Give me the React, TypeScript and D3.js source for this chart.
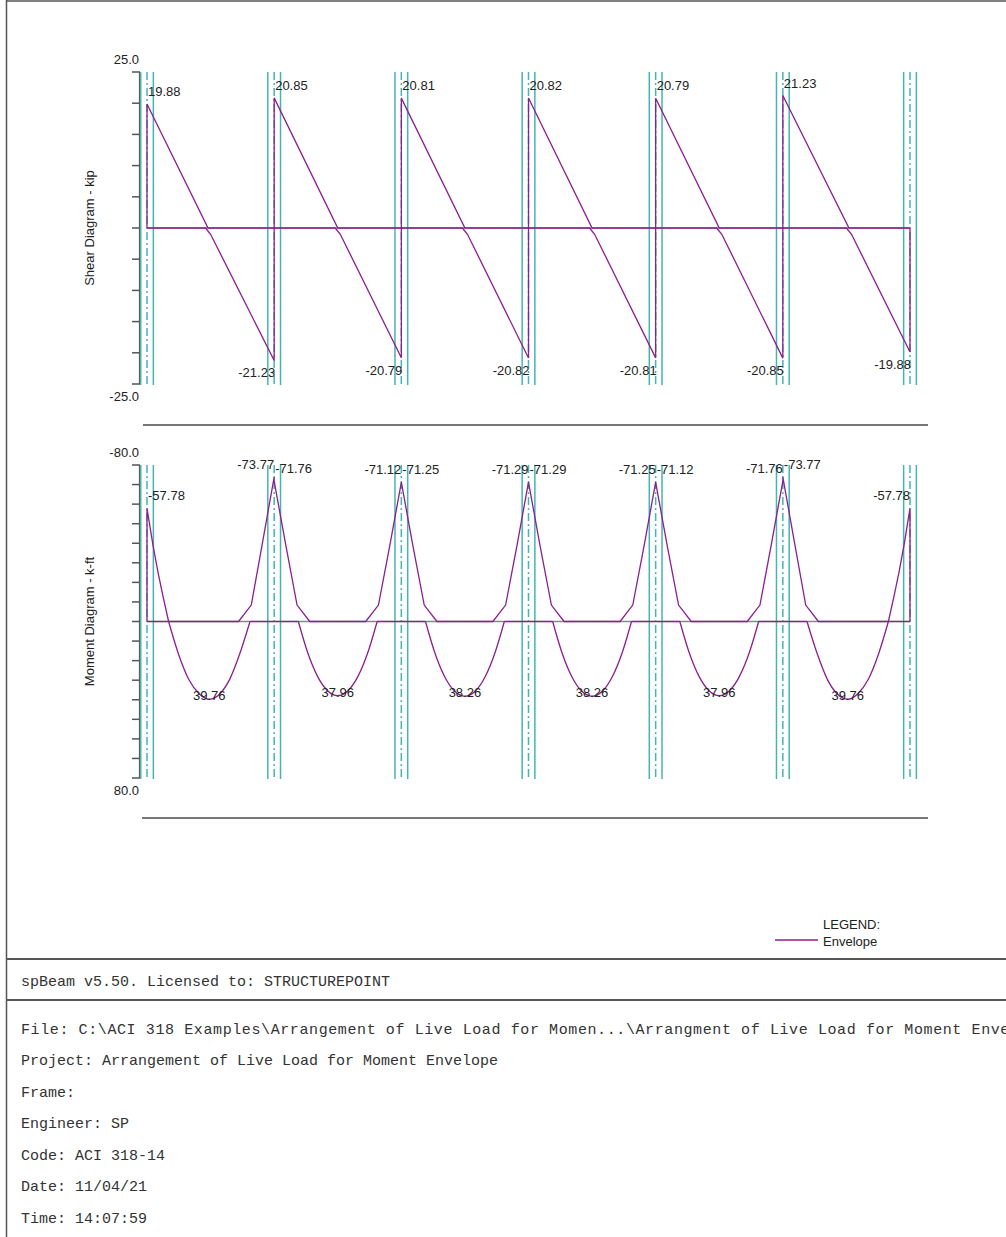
import React from 'react';
import * as d3 from 'd3';

// beam geometry (ft)
const spanLength = 25;
const spanCount = 6;
const columnWidth = 2.5;

// shear envelope (kip)
const shearLeft = [19.88, 20.85, 20.81, 20.82, 20.79, 21.23];
const shearRight = [-21.23, -20.79, -20.82, -20.81, -20.85, -19.88];
const shearPosZero = [0.48, 0.5, 0.5, 0.5, 0.5, 0.52];
const shearNegStart = [0.46, 0.48, 0.48, 0.48, 0.48, 0.5];
const shearNegBend = [0.5, 0.52, 0.52, 0.52, 0.52, 0.54];
const shearNegBendValue = [-1.0, -1.0, -1.0, -1.0, -1.0, -1.0];

// moment envelope (k-ft), negative plotted upward
const momentLeft = [-57.78, -71.76, -71.25, -71.29, -71.12, -73.77];
const momentRight = [-73.77, -71.12, -71.29, -71.25, -71.76, -57.78];
const momentMid = [39.76, 37.96, 38.26, 38.26, 37.96, 39.76];
const momentMidAt = [0.49, 0.5, 0.5, 0.5, 0.5, 0.51];

// stations [fraction of span, value] next to each support
const momentNegNearLeft: [number, number][][] = [
  [[0.047, -39], [0.087, -25], [0.126, -12.8], [0.17, 0]],
  [[0.09, -39.5], [0.18, -8.4], [0.28, 0]],
  [[0.09, -39], [0.18, -8.4], [0.28, 0]],
  [[0.09, -39], [0.18, -8.4], [0.28, 0]],
  [[0.09, -39], [0.18, -8.4], [0.28, 0]],
  [[0.09, -41], [0.18, -8.4], [0.28, 0]],
];
const momentNegNearRight: [number, number][][] = [
  [[0.72, 0], [0.82, -8.4], [0.91, -41]],
  [[0.72, 0], [0.82, -8.4], [0.91, -39]],
  [[0.72, 0], [0.82, -8.4], [0.91, -39]],
  [[0.72, 0], [0.82, -8.4], [0.91, -39]],
  [[0.72, 0], [0.82, -8.4], [0.91, -39.5]],
  [[0.83, 0], [0.874, -12.8], [0.913, -25], [0.953, -39]],
];
const momentPosCurve: [number, number][][] = [
  [[0.17, 0], [0.25, 17.1], [0.33, 29.8], [0.41, 36.9], [0.49, 39.76], [0.57, 37.2], [0.65, 29.6], [0.73, 16.4], [0.81, 0]],
  [[0.19, 0], [0.26, 15.2], [0.34, 27.9], [0.42, 35.4], [0.5, 37.96], [0.58, 35.4], [0.66, 27.9], [0.74, 15.2], [0.81, 0]],
  [[0.19, 0], [0.26, 15.3], [0.34, 28.1], [0.42, 35.7], [0.5, 38.26], [0.58, 35.7], [0.66, 28.1], [0.74, 15.3], [0.81, 0]],
  [[0.19, 0], [0.26, 15.3], [0.34, 28.1], [0.42, 35.7], [0.5, 38.26], [0.58, 35.7], [0.66, 28.1], [0.74, 15.3], [0.81, 0]],
  [[0.19, 0], [0.26, 15.2], [0.34, 27.9], [0.42, 35.4], [0.5, 37.96], [0.58, 35.4], [0.66, 27.9], [0.74, 15.2], [0.81, 0]],
  [[0.19, 0], [0.27, 16.4], [0.35, 29.6], [0.43, 37.2], [0.51, 39.76], [0.59, 36.9], [0.67, 29.8], [0.75, 17.1], [0.83, 0]],
];

const footerLines = [
  'Project: Arrangement of Live Load for Moment Envelope',
  'Frame:',
  'Engineer: SP',
  'Code: ACI 318-14',
  'Date: 11/04/21',
  'Time: 14:07:59',
];
const fileLine = 'File: C:\\ACI 318 Examples\\Arrangement of Live Load for Momen...\\Arrangment of Live Load for Moment Enve';

const W = 1006;
const H = 1237;
const PURPLE = '#8a1f90';
const TEAL = '#47b3b3';
const AXIS = '#555';
const SANS = '"Liberation Sans", Arial, sans-serif';
const MONO = '"Liberation Mono", "Courier New", monospace';

type Pt = [number, number];

const x = d3.scaleLinear().domain([0, spanLength * spanCount]).range([147, 910]);
const yShear = d3.scaleLinear().domain([25, -25]).range([72, 384]);
const yMoment = d3.scaleLinear().domain([-80, 80]).range([465, 778]);

const supports = d3.range(spanCount + 1).map(i => i * spanLength);

// build envelopes along the whole beam
const shearPos: Pt[] = [[0, 0]];
const shearNeg: Pt[] = [];
const momentNeg: Pt[] = [[0, 0]];
const momentPos: Pt[] = [[0, 0]];
for (let i = 0; i < spanCount; i++) {
  const x0 = i * spanLength;
  shearPos.push([x0, shearLeft[i]], [x0 + shearPosZero[i] * spanLength, 0], [x0 + spanLength, 0]);
  shearNeg.push([x0, 0], [x0 + shearNegStart[i] * spanLength, 0],
    [x0 + shearNegBend[i] * spanLength, shearNegBendValue[i]], [x0 + spanLength, shearRight[i]]);
  momentNeg.push([x0, momentLeft[i]]);
  momentNegNearLeft[i].forEach(([f, v]) => momentNeg.push([x0 + f * spanLength, v]));
  momentNegNearRight[i].forEach(([f, v]) => momentNeg.push([x0 + f * spanLength, v]));
  momentNeg.push([x0 + spanLength, momentRight[i]]);
  momentPosCurve[i].forEach(([f, v]) => momentPos.push([x0 + f * spanLength, v]));
  momentPos.push([x0 + spanLength, 0]);
}
shearNeg.push([spanLength * spanCount, 0]);
momentNeg.push([spanLength * spanCount, 0]);

// split into runs that start/end at zero so parabolas stay smooth but corners stay sharp
function zeroRuns(pts: Pt[]): Pt[][] {
  const out: Pt[][] = [];
  let cur: Pt[] = [pts[0]];
  for (let k = 1; k < pts.length; k++) {
    cur.push(pts[k]);
    if (pts[k][1] === 0) {
      out.push(cur);
      cur = [pts[k]];
    }
  }
  if (cur.length > 1) out.push(cur);
  return out;
}

// plain hyphen minus, as in the original print-out
const fmt = (v: number) => v.toFixed(2);

const Diagram: React.FC<{
  y: d3.ScaleLinear<number, number>;
  ticks: number[];
  title: string;
  pos: Pt[];
  neg: Pt[];
  smoothPos: boolean;
}> = ({ y, ticks, title, pos, neg, smoothPos }) => {
  const [top, bottom] = y.range();
  const [d0, d1] = y.domain();
  const lineLin = d3.line<Pt>().x(d => x(d[0])).y(d => y(d[1]));
  const lineSmooth = d3.line<Pt>().x(d => x(d[0])).y(d => y(d[1])).curve(d3.curveMonotoneX);
  const half = columnWidth / 2;
  return (
    <g>
      {/* axis */}
      <line x1={140} x2={140} y1={top} y2={bottom} stroke={AXIS} strokeWidth={2.2} />
      {ticks.map(t => (
        <line key={t} x1={132} x2={140} y1={y(t)} y2={y(t)} stroke={AXIS} strokeWidth={1.5} />
      ))}
      <text x={139} y={top - 8} textAnchor="end" fontSize={13} fontFamily={SANS} fill="#222">{d0.toFixed(1)}</text>
      <text x={139} y={bottom + 17} textAnchor="end" fontSize={13} fontFamily={SANS} fill="#222">{d1.toFixed(1)}</text>
      <text transform={`translate(94,${(top + bottom) / 2}) rotate(-90)`} textAnchor="middle"
        fontSize={13} fontFamily={SANS} fill="#222">{title}</text>

      {/* columns */}
      {supports.map(s => (
        <g key={s}>
          <line x1={x(s - half)} x2={x(s - half)} y1={top} y2={bottom + 1} stroke={TEAL} strokeWidth={1.5} />
          <line x1={x(s + half)} x2={x(s + half)} y1={top} y2={bottom + 1} stroke={TEAL} strokeWidth={1.5} />
          <line x1={x(s)} x2={x(s)} y1={top} y2={bottom + 1} stroke={TEAL} strokeWidth={1.5} strokeDasharray="8,3,2,3" />
        </g>
      ))}

      {/* zero baseline */}
      <line x1={x(0)} x2={x(spanLength * spanCount)} y1={y(0)} y2={y(0)} stroke="#888" strokeWidth={1.5} />

      {/* envelopes */}
      {smoothPos
        ? zeroRuns(pos).map((r, k) => <path key={k} d={lineSmooth(r) || ''} fill="none" stroke={PURPLE} strokeWidth={1.3} />)
        : <path d={lineLin(pos) || ''} fill="none" stroke={PURPLE} strokeWidth={1.3} />}
      <path d={lineLin(neg) || ''} fill="none" stroke={PURPLE} strokeWidth={1.3} />
    </g>
  );
};

const App: React.FC = () => {
  const txt = { fontSize: 13, fontFamily: SANS, fill: '#222' };
  return (
    <svg width={W} height={H} viewBox={`0 0 ${W} ${H}`}
      style={{ position: 'absolute', left: 0, top: 0, background: '#fff' }}>
      <rect x={0} y={0} width={W} height={H} fill="#fff" />

      {/* frame */}
      <line x1={6.5} x2={6.5} y1={0} y2={H} stroke={AXIS} strokeWidth={1.5} />
      <line x1={6} x2={W} y1={1} y2={1} stroke={AXIS} strokeWidth={1.5} />

      <Diagram y={yShear} ticks={d3.range(-25, 25.01, 5)} title="Shear Diagram - kip"
        pos={shearPos} neg={shearNeg} smoothPos={false} />
      <Diagram y={yMoment} ticks={d3.range(-80, 80.01, 10)} title="Moment Diagram - k-ft"
        pos={momentPos} neg={momentNeg} smoothPos={true} />

      {/* shear labels */}
      {shearLeft.map((v, i) => (
        <text key={'sl' + i} x={x(i * spanLength) + 1} y={yShear(v) - 8} {...txt}>{fmt(v)}</text>
      ))}
      {shearRight.map((v, i) => (
        <text key={'sr' + i} x={x((i + 1) * spanLength) + 1} y={yShear(v) + 17} textAnchor="end" {...txt}>{fmt(v)}</text>
      ))}

      {/* moment labels */}
      {momentLeft.map((v, i) => (
        <text key={'ml' + i} x={x(i * spanLength) + 1} y={yMoment(v) - 8} {...txt}>{fmt(v)}</text>
      ))}
      {momentRight.map((v, i) => (
        <text key={'mr' + i} x={x((i + 1) * spanLength)} y={yMoment(v) - 8} textAnchor="end" {...txt}>{fmt(v)}</text>
      ))}
      {momentMid.map((v, i) => (
        <text key={'mm' + i} x={x((i + momentMidAt[i]) * spanLength)} y={yMoment(v) + 1} textAnchor="middle" {...txt}>{fmt(v)}</text>
      ))}

      {/* separators */}
      <line x1={143} x2={928} y1={425} y2={425} stroke="#777" strokeWidth={2} />
      <line x1={142} x2={928} y1={818} y2={818} stroke="#777" strokeWidth={2} />

      {/* legend */}
      <text x={823} y={928.5} {...txt}>LEGEND:</text>
      <line x1={775} x2={818} y1={940} y2={940} stroke={PURPLE} strokeWidth={1.3} />
      <text x={823} y={945.5} {...txt}>Envelope</text>

      {/* footer */}
      <line x1={6} x2={W} y1={959} y2={959} stroke={AXIS} strokeWidth={2} />
      <line x1={6} x2={W} y1={1000} y2={1000} stroke={AXIS} strokeWidth={2} />
      <text x={21} y={986} fontSize={15} fontFamily={MONO} fill="#333">spBeam v5.50. Licensed to: STRUCTUREPOINT</text>
      <text x={21} y={1034} fontSize={15} fontFamily={MONO} fill="#333" letterSpacing={0.6}>{fileLine}</text>
      {footerLines.map((t, k) => (
        <text key={t} x={21} y={1065 + k * 31.6} fontSize={15} fontFamily={MONO} fill="#333">{t}</text>
      ))}
    </svg>
  );
};

export default App;
